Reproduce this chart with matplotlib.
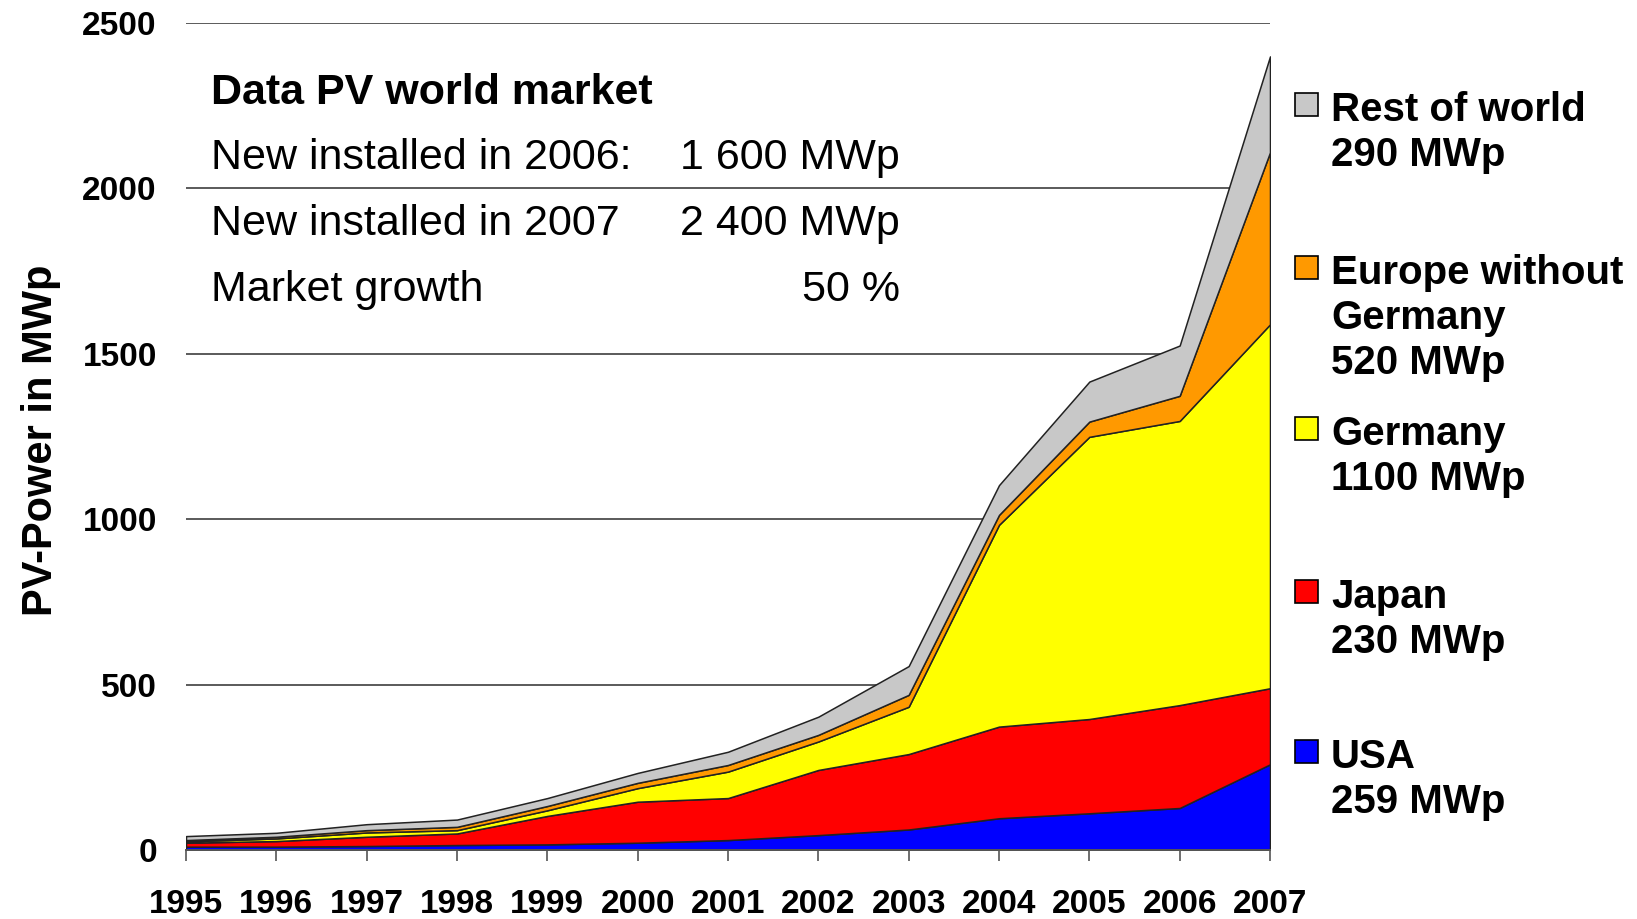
import matplotlib
matplotlib.use('Agg')
import matplotlib.pyplot as plt
from matplotlib.patches import Rectangle

plt.rcParams['font.family'] = ['Liberation Sans', 'DejaVu Sans']

# Newly installed PV power per year, MWp
years = list(range(1995, 2008))
usa = [10, 10, 12, 15, 17, 22, 30, 45, 62, 96, 111, 127, 259]
japan = [12, 17, 28, 35, 86, 124, 127, 197, 228, 277, 285, 311, 230]
germany = [4, 8, 13, 10, 17, 41, 80, 86, 143, 610, 853, 859, 1100]
europe_wo_germany = [4, 5, 7, 10, 13, 16, 20, 20, 36, 30, 46, 76, 520]
rest_of_world = [12, 12, 18, 22, 24, 30, 40, 55, 87, 90, 121, 152, 290]

series_names = ['USA', 'Japan', 'Germany', 'Europe without\nGermany', 'Rest of world']
series_colors = ['#0000FF', '#FF0000', '#FFFF00', '#FF9900', '#C8C8C8']
y_ticks = [0, 500, 1000, 1500, 2000, 2500]

info_title = 'Data PV world market'
info_labels = ['New installed in 2006:', 'New installed in 2007', 'Market growth']
info_values = ['1 600 MWp', '2 400 MWp', '50 %']

W, H = 1637, 919
fig = plt.figure(figsize=(W / 100, H / 100), dpi=100)
ax = fig.add_axes([186 / W, 69 / H, 1084 / W, 827 / H])

stack = [usa, japan, germany, europe_wo_germany, rest_of_world]
ax.stackplot(years, stack, colors=series_colors, edgecolor='#222222', linewidth=1.1, zorder=2)

ax.set_xlim(1995, 2007)
ax.set_ylim(0, 2500)
ax.set_xticks(years)
ax.set_xticklabels([str(y) for y in years], fontsize=24, fontweight='bold')
ax.set_yticks(y_ticks)
ax.set_yticklabels([str(v) for v in y_ticks], fontsize=24, fontweight='bold')
ax.tick_params(axis='y', length=0, pad=21)
ax.tick_params(axis='x', length=8, width=1.2, color='#555555', pad=20)

ax.grid(axis='y', color='#5a5a5a', linewidth=1.4)
ax.set_axisbelow(True)
for side in ['left', 'right', 'top']:
    ax.spines[side].set_visible(False)
ax.spines['bottom'].set_color('#555555')
ax.spines['bottom'].set_linewidth(1.4)

fig.text(41 / W, 1 - 440 / H, 'PV-Power in MWp', rotation=90, ha='center', va='center',
         fontsize=30, fontweight='bold')

# summary box in the upper left of the plot
fig.text(211 / W, 1 - 104 / H, info_title, fontsize=31, fontweight='bold', va='baseline')
for i, (lab, val) in enumerate(zip(info_labels, info_values)):
    yb = 169 + i * 66
    fig.text(211 / W, 1 - yb / H, lab, fontsize=31, va='baseline')
    fig.text(900 / W, 1 - yb / H, val, fontsize=31, va='baseline', ha='right')

# legend on the right, top series first, with the 2007 values
legend_baselines = [768, 608, 445, 284, 121]
for name, color, vals, yb in zip(series_names, series_colors, stack, legend_baselines):
    sq = 23
    yc = yb - 17
    fig.add_artist(Rectangle((1295 / W, 1 - (yc + sq / 2) / H), sq / W, sq / H,
                             transform=fig.transFigure, facecolor=color,
                             edgecolor='black', linewidth=1.2))
    lines = name.split('\n') + [f'{vals[-1]} MWp']
    for j, line in enumerate(lines):
        fig.text(1331 / W, 1 - (yb + j * 45) / H, line, fontsize=29,
                 fontweight='bold', va='baseline')

fig.savefig('out.png', dpi=100)
